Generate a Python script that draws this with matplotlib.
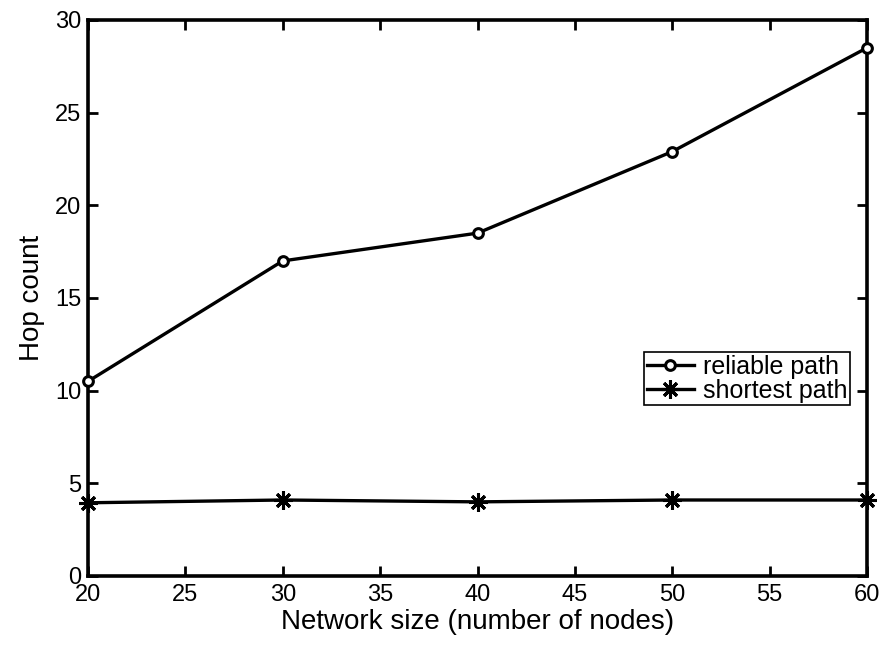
import matplotlib
matplotlib.use("Agg")
import matplotlib.pyplot as plt

plt.rcParams['font.family'] = ['Liberation Sans', 'DejaVu Sans']

network_size = [20, 30, 40, 50, 60]
reliable_hops = [10.5, 17.0, 18.5, 22.9, 28.5]
shortest_hops = [3.95, 4.1, 4.0, 4.1, 4.1]
x_ticks = [20, 25, 30, 35, 40, 45, 50, 55, 60]
y_ticks = [0, 5, 10, 15, 20, 25, 30]

fig = plt.figure(figsize=(8.85, 6.45), dpi=100)
ax = fig.add_axes([0.0994, 0.107, 0.8803, 0.862])

ax.plot(network_size, reliable_hops, color='black', lw=2.4, marker='o',
        ms=7, mfc='white', mec='black', mew=2.2, label='reliable path',
        clip_on=False, zorder=3)
ax.plot(network_size, shortest_hops, color='black', lw=2.4, marker=(8, 2, 0),
        ms=13, mew=2.2, label='shortest path', clip_on=False, zorder=3)

ax.set_xlim(20, 60)
ax.set_ylim(0, 30)
ax.set_xticks(x_ticks)
ax.set_yticks(y_ticks)
ax.tick_params(direction='in', length=7, width=2, labelsize=17, top=True, right=True)
ax.tick_params(axis='x', pad=6)
ax.tick_params(axis='y', pad=5)
for s in ax.spines.values():
    s.set_linewidth(2.6)

ax.set_xlabel('Network size (number of nodes)', fontsize=20, labelpad=2)
ax.set_ylabel('Hop count', fontsize=20, labelpad=7)

leg = ax.legend(loc='lower right', bbox_to_anchor=(0.978, 0.307), fontsize=18,
                frameon=True, fancybox=False, edgecolor='black', framealpha=1,
                handlelength=1.9, handletextpad=0.35, borderpad=0.1, labelspacing=0.0,
                borderaxespad=0)
leg.get_frame().set_linewidth(1.2)

fig.savefig('out.png', dpi=100)
